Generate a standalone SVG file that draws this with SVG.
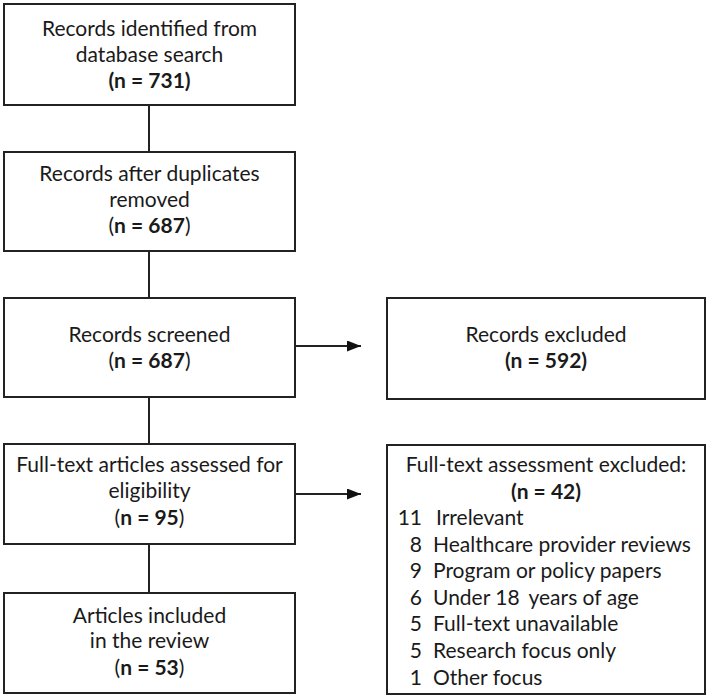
<svg xmlns="http://www.w3.org/2000/svg" width="709" height="698" viewBox="0 0 709 698">
<style>
.box{fill:#fff;stroke:#222;stroke-width:2}
text{font-family:Lato,"Liberation Sans",sans-serif;font-size:21px;fill:#1a1a1a}
.c{text-anchor:middle}
.b{font-weight:bold}
.n{text-anchor:end}
.conn line{stroke:#222;stroke-width:2}
</style>
<defs>
<marker id="ah" viewBox="0 0 14 11" refX="14" refY="5.5" markerWidth="14" markerHeight="11" markerUnits="userSpaceOnUse" orient="auto">
<path d="M0,0 L14,5.5 L0,11 z" fill="#111"/>
</marker>
</defs>
<rect width="709" height="698" fill="#fff"/>
<g id="connectors" class="conn">
<line x1="149" y1="105" x2="149" y2="152"/>
<line x1="149" y1="251" x2="149" y2="298"/>
<line x1="149" y1="397" x2="149" y2="444"/>
<line x1="149" y1="544" x2="149" y2="593"/>
<line x1="295" y1="346" x2="361" y2="346" marker-end="url(#ah)"/>
<line x1="295" y1="494" x2="361" y2="494" marker-end="url(#ah)"/>
</g>
<g id="n1">
<rect class="box" x="4" y="4" width="291" height="101"/>
<text class="c" x="149.5" y="36">Records identified from</text>
<text class="c" x="149.5" y="62">database search</text>
<text class="c b" x="149.5" y="88">(n = 731)</text>
</g>
<g id="n2">
<rect class="box" x="4" y="152" width="291" height="99"/>
<text class="c" x="149.5" y="181">Records after duplicates</text>
<text class="c" x="149.5" y="207">removed</text>
<text class="c" x="149.5" y="233">(<tspan class="b">n = 687</tspan>)</text>
</g>
<g id="n3">
<rect class="box" x="4" y="298" width="291" height="99"/>
<text class="c" x="149.5" y="342">Records screened</text>
<text class="c" x="149.5" y="368">(<tspan class="b">n = 687</tspan>)</text>
</g>
<g id="n4">
<rect class="box" x="387" y="298" width="318" height="101"/>
<text class="c" x="546" y="342">Records excluded</text>
<text class="c b" x="546" y="368">(n = 592)</text>
</g>
<g id="n5">
<rect class="box" x="4" y="444" width="291" height="100"/>
<text class="c" x="149.5" y="472">Full-text articles assessed for</text>
<text class="c" x="149.5" y="498">eligibility</text>
<text class="c" x="149.5" y="525">(<tspan class="b">n = 95</tspan>)</text>
</g>
<g id="n6">
<rect class="box" x="4" y="593" width="291" height="100"/>
<text class="c" x="149.5" y="623">Articles included</text>
<text class="c" x="149.5" y="648">in the review</text>
<text class="c" x="149.5" y="675">(<tspan class="b">n = 53</tspan>)</text>
</g>
<g id="n7">
<rect class="box" x="387" y="445" width="318" height="249"/>
<text class="c" x="546" y="472">Full-text assessment excluded:</text>
<text class="c b" x="546" y="499">(n = 42)</text>
<text class="n" x="422" y="525">11</text><text x="436" y="525">Irrelevant</text>
<text class="n" x="422" y="552">8</text><text x="433" y="552">Healthcare provider reviews</text>
<text class="n" x="422" y="578">9</text><text x="433" y="578">Program or policy papers</text>
<text class="n" x="422" y="605">6</text><text x="433" y="605">Under 18 <tspan dx="4">years of age</tspan></text>
<text class="n" x="422" y="631">5</text><text x="433" y="631">Full-text unavailable</text>
<text class="n" x="422" y="658">5</text><text x="433" y="658">Research focus only</text>
<text class="n" x="422" y="685">1</text><text x="433" y="685">Other focus</text>
</g>
</svg>
